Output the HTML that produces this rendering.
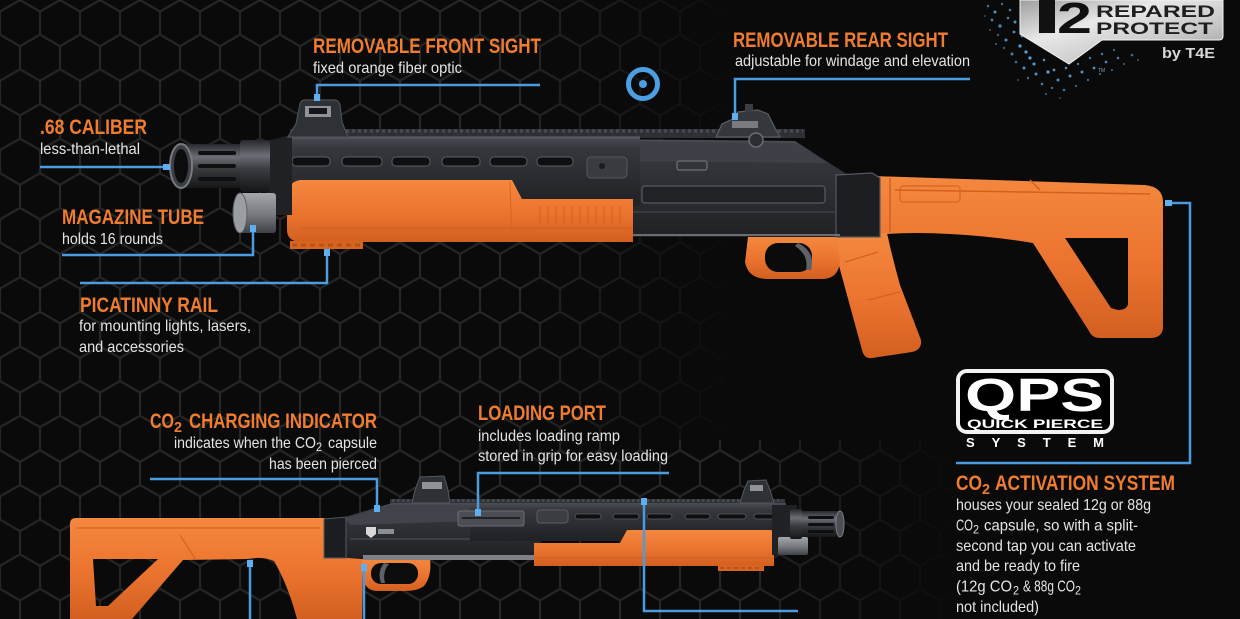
<!DOCTYPE html>
<html><head><meta charset="utf-8"><style>
html,body{margin:0;padding:0;background:#0a0a0a;width:1240px;height:619px;overflow:hidden}
svg{display:block}
.h{font-family:"Liberation Sans",Arial,sans-serif;font-weight:700;font-size:21px;fill:#ef7c31}
.hs{font-family:"Liberation Sans",Arial,sans-serif;font-weight:700;font-size:15px;fill:#ef7c31}
.b{font-family:"Liberation Sans",Arial,sans-serif;font-size:16px;fill:#e4e4e4}
.bs{font-family:"Liberation Sans",Arial,sans-serif;font-size:12px;fill:#e4e4e4}
</style></head><body>
<svg width="1240" height="619" viewBox="0 0 1240 619" xmlns="http://www.w3.org/2000/svg">
<defs>
<pattern id="hex" width="40" height="69.28" patternUnits="userSpaceOnUse">
<path d="M20,0 L40,11.55 L40,34.64 L20,46.19 L0,34.64 L0,11.55 Z M20,46.19 L20,69.28" fill="none" stroke="#262626" stroke-width="2.2"/>
</pattern>
<linearGradient id="fadeX" x1="0" y1="0" x2="1" y2="0">
<stop offset="0" stop-color="#fff"/><stop offset="0.42" stop-color="#fff"/><stop offset="0.6" stop-color="#000"/><stop offset="1" stop-color="#000"/>
</linearGradient>
<linearGradient id="fadeX2" x1="0" y1="0" x2="1" y2="0">
<stop offset="0" stop-color="#fff"/><stop offset="0.6" stop-color="#fff"/><stop offset="0.78" stop-color="#000"/><stop offset="1" stop-color="#000"/>
</linearGradient>
<mask id="hexmask">
<rect x="0" y="0" width="1240" height="619" fill="url(#fadeX)"/>
<rect x="0" y="440" width="1240" height="179" fill="url(#fadeX2)"/>
</mask>
<linearGradient id="gOr" x1="0" y1="0" x2="0" y2="1">
<stop offset="0" stop-color="#f4883f"/><stop offset="0.5" stop-color="#ec7530"/><stop offset="1" stop-color="#d35f20"/>
</linearGradient>
<linearGradient id="gDark" x1="0" y1="0" x2="0" y2="1">
<stop offset="0" stop-color="#4a4e54"/><stop offset="0.18" stop-color="#34373c"/><stop offset="1" stop-color="#1f2124"/>
</linearGradient>
<linearGradient id="gMuz" x1="0" y1="0" x2="0" y2="1">
<stop offset="0" stop-color="#26282c"/><stop offset="0.3" stop-color="#6b6f75"/><stop offset="0.55" stop-color="#3a3d41"/><stop offset="1" stop-color="#151618"/>
</linearGradient>
<linearGradient id="gCap" x1="0" y1="0" x2="0" y2="1">
<stop offset="0" stop-color="#a3a7ab"/><stop offset="0.5" stop-color="#7a7e83"/><stop offset="1" stop-color="#3e4145"/>
</linearGradient>
<linearGradient id="gSil" x1="0" y1="0" x2="1" y2="1">
<stop offset="0" stop-color="#9d9d9d"/><stop offset="0.35" stop-color="#e8e8e8"/><stop offset="0.7" stop-color="#c4c4c4"/><stop offset="1" stop-color="#8e8e8e"/>
</linearGradient>
</defs>

<rect width="1240" height="619" fill="#0a0a0a"/>
<rect width="1240" height="619" fill="url(#hex)" mask="url(#hexmask)"/>

<!-- LOGO -->
<g>
<g fill="#5fb0ee">
<circle cx="988" cy="6" r="1.3" opacity=".6"/><circle cx="995" cy="12" r="1.5" opacity=".8"/><circle cx="1002" cy="4" r="1.2" opacity=".6"/><circle cx="992" cy="20" r="1.4" opacity=".7"/><circle cx="1000" cy="26" r="1.6" opacity=".8"/><circle cx="1008" cy="18" r="1.3" opacity=".7"/><circle cx="998" cy="35" r="1.2" opacity=".5"/><circle cx="1006" cy="40" r="1.5" opacity=".8"/><circle cx="1014" cy="32" r="1.4" opacity=".8"/><circle cx="1004" cy="48" r="1.2" opacity=".5"/><circle cx="1012" cy="54" r="1.5" opacity=".7"/><circle cx="1020" cy="46" r="1.6" opacity=".9"/><circle cx="1016" cy="62" r="1.3" opacity=".6"/><circle cx="1024" cy="68" r="1.5" opacity=".8"/><circle cx="1030" cy="58" r="1.6" opacity=".9"/><circle cx="1028" cy="78" r="1.2" opacity=".6"/><circle cx="1036" cy="74" r="1.5" opacity=".8"/><circle cx="1042" cy="84" r="1.3" opacity=".7"/><circle cx="1048" cy="72" r="1.6" opacity=".9"/><circle cx="1052" cy="88" r="1.2" opacity=".6"/><circle cx="1058" cy="80" r="1.5" opacity=".8"/><circle cx="1064" cy="90" r="1.3" opacity=".6"/><circle cx="1070" cy="76" r="1.5" opacity=".8"/><circle cx="1076" cy="86" r="1.2" opacity=".5"/><circle cx="1082" cy="72" r="1.5" opacity=".8"/><circle cx="1088" cy="80" r="1.2" opacity=".6"/><circle cx="1094" cy="68" r="1.4" opacity=".8"/><circle cx="1100" cy="74" r="1.2" opacity=".5"/><circle cx="1106" cy="62" r="1.4" opacity=".7"/><circle cx="1112" cy="70" r="1.1" opacity=".5"/><circle cx="1118" cy="58" r="1.3" opacity=".7"/><circle cx="1124" cy="64" r="1.1" opacity=".5"/><circle cx="1132" cy="55" r="1.3" opacity=".6"/><circle cx="1138" cy="60" r="1" opacity=".5"/><circle cx="1010" cy="10" r="1.3" opacity=".7"/><circle cx="1015" cy="22" r="1.5" opacity=".8"/><circle cx="1022" cy="36" r="1.4" opacity=".8"/><circle cx="1026" cy="52" r="1.6" opacity=".9"/><circle cx="1034" cy="64" r="1.5" opacity=".9"/><circle cx="1044" cy="60" r="1.3" opacity=".8"/><circle cx="1054" cy="70" r="1.4" opacity=".8"/><circle cx="1066" cy="68" r="1.3" opacity=".8"/><circle cx="1078" cy="64" r="1.2" opacity=".7"/><circle cx="1090" cy="58" r="1.2" opacity=".7"/><circle cx="1102" cy="54" r="1.2" opacity=".7"/><circle cx="1114" cy="50" r="1.1" opacity=".6"/><circle cx="996" cy="44" r="1.1" opacity=".5"/><circle cx="990" cy="30" r="1" opacity=".5"/><circle cx="985" cy="16" r="1" opacity=".4"/><circle cx="1018" cy="80" r="1" opacity=".4"/><circle cx="1046" cy="94" r="1.1" opacity=".5"/><circle cx="1060" cy="98" r="1" opacity=".4"/>
</g>
<path d="M1020,0 L1223,0 L1223,36 Q1223,40 1219,40 L1102,40 L1069,64 L1020,34 Z" fill="url(#gSil)" stroke="#f2f2f2" stroke-width="1"/>
<rect x="1039" y="0" width="16" height="33" fill="#111"/>
<text x="1057" y="33" font-family="Liberation Sans, Arial, sans-serif" font-weight="700" font-size="44" fill="#111" textLength="35" lengthAdjust="spacingAndGlyphs">2</text>
<text x="1096" y="17" font-family="Liberation Sans, Arial, sans-serif" font-weight="700" font-size="17" fill="#1e1e1e" textLength="119" lengthAdjust="spacingAndGlyphs">REPARED</text>
<text x="1096" y="34" font-family="Liberation Sans, Arial, sans-serif" font-weight="700" font-size="17" fill="#1e1e1e" textLength="117" lengthAdjust="spacingAndGlyphs">PROTECT</text>
<text x="1162" y="58" font-family="Liberation Sans, Arial, sans-serif" font-weight="700" font-size="15" fill="#d8d8d8" textLength="53" lengthAdjust="spacingAndGlyphs">by T4E</text>
<text x="1098" y="72" font-family="Liberation Sans, Arial, sans-serif" font-size="5" fill="#8a9aa8">TM</text>
</g>

<!-- TARGET ICON -->
<circle cx="643" cy="84" r="14.5" fill="none" stroke="#4b9fe2" stroke-width="5"/>
<circle cx="643" cy="84" r="4" fill="#4b9fe2"/>

<!-- ============ TOP GUN ============ -->
<g>
<path fill-rule="evenodd" fill="url(#gOr)" d="M873,176 L1145,185 Q1163,187 1163,202 L1163,328 Q1162,338 1150,338 L1100,338 Q1092,338 1089,331 L1033,243 Q990,236 950,234 Q915,232 887,234 L873,237 Z M1065,238 L1128,238 L1128,304 Q1127,310 1118,310 L1111,308 Z"/>
<path d="M890,178 L890,232 M895,190 L1150,194 M1030,180 L1040,190" stroke="#d2601f" stroke-width="1.5" fill="none"/>
<rect x="900" y="186" width="60" height="16" rx="3" fill="none" stroke="#d5641f" stroke-width="1.2"/>
<path fill="url(#gOr)" d="M833,237 L887,233 Q893,260 900,285 L921,340 Q922,350 912,352 L872,358 Q864,359 862,350 L838,262 Q833,250 833,237 Z"/>
<path d="M845,262 L878,252 M868,300 L900,292" stroke="#d5621f" stroke-width="1.2" fill="none"/>
<path fill="url(#gOr)" d="M748,237 L836,237 L840,262 Q838,279 822,279 L768,279 Q748,279 745,262 Z"/>
<rect x="765" y="243" width="47" height="29" rx="13" fill="#0b0b0c"/>
<path d="M798,243 Q816,252 811,270 L806,270 Q809,255 795,246 Z" fill="#5e6268"/>
<path fill="url(#gDark)" d="M600,139 L795,141 L848,175 L848,237 L600,237 Z"/>
<path fill="#3d4147" d="M600,141 L795,143 L828,163 L600,161 Z"/>
<path fill="#1c1e21" stroke="#55595e" stroke-width="1.2" d="M836,175 L872,173 L880,178 L880,237 L836,237 Z"/>
<rect x="642" y="186" width="183" height="17" rx="3" fill="#202326" stroke="#4d5157" stroke-width="1.5"/>
<line x1="600" y1="212" x2="836" y2="212" stroke="#41454b" stroke-width="1.2"/>
<line x1="600" y1="235" x2="840" y2="235" stroke="#6a6e73" stroke-width="2"/>
<rect x="677" y="161" width="30" height="9" rx="2" fill="none" stroke="#6d7177" stroke-width="1.2"/>
<rect x="290" y="129" width="515" height="9" fill="#2d3034"/>
<line x1="292" y1="131" x2="803" y2="131" stroke="#4a4e53" stroke-width="3" stroke-dasharray="3 3"/>
<path fill="url(#gDark)" d="M268,141 L288,136 L640,136 L640,206 L268,206 Z"/>
<line x1="288" y1="138" x2="640" y2="138" stroke="#56595e" stroke-width="1.5"/>
<g fill="#0e0f11" stroke="#5b5f64" stroke-width="1">
<rect x="292" y="157" width="38" height="9" rx="4"/>
<rect x="342" y="157" width="40" height="9" rx="4"/>
<rect x="392" y="157" width="38" height="9" rx="4"/>
<rect x="442" y="157" width="38" height="9" rx="4"/>
<rect x="490" y="157" width="37" height="9" rx="4"/>
<rect x="537" y="157" width="36" height="9" rx="4"/>
</g>
<rect x="587" y="157" width="40" height="21" rx="4" fill="#383c41" stroke="#55595e" stroke-width="1"/>
<circle cx="602" cy="166" r="3" fill="#1a1c1f"/>
<path fill="url(#gOr)" d="M300,180 L512,180 L522,199 L633,199 L633,242 L300,242 Q287,241 287,230 L287,196 Q288,182 300,180 Z"/>
<line x1="300" y1="228" x2="633" y2="228" stroke="#d3601f" stroke-width="1.2"/>
<line x1="510" y1="182" x2="512" y2="242" stroke="#d8651f" stroke-width="1"/>
<path d="M540,206 V226 M548,206 V226 M556,206 V226 M564,206 V226 M572,206 V226 M580,206 V226 M588,206 V226 M596,206 V226 M604,206 V226 M612,206 V226 M620,206 V226" stroke="#d8651f" stroke-width="1.2"/>
<rect x="290" y="241" width="73" height="8" fill="#d8651f"/>
<line x1="292" y1="245" x2="362" y2="245" stroke="#b9521a" stroke-width="3" stroke-dasharray="5 4"/>
<path fill="#1f2124" d="M266,142 L286,136 L292,136 L292,215 L266,215 Z"/>
<rect x="240" y="193" width="36" height="40" rx="3" fill="url(#gCap)"/>
<ellipse cx="240" cy="213" rx="7" ry="20" fill="#9a9ea3" stroke="#5a5e63" stroke-width="1"/>
<rect x="180" y="144" width="90" height="44" fill="url(#gMuz)"/>
<rect x="240" y="140" width="30" height="52" rx="3" fill="url(#gMuz)"/>
<rect x="198" y="151" width="38" height="4" rx="2" fill="#0e0f10"/>
<rect x="198" y="164" width="38" height="4" rx="2" fill="#0e0f10"/>
<rect x="198" y="177" width="38" height="4" rx="2" fill="#0e0f10"/>
<ellipse cx="181" cy="166" rx="11" ry="22" fill="#3b3e43" stroke="#777b80" stroke-width="2"/>
<ellipse cx="181" cy="166" rx="7" ry="17" fill="#0c0c0d"/>
<path d="M288,137 L296,124 L300,104 Q301,100 305,100 L334,100 Q339,100 340,105 L342,122 L348,137 Z" fill="#2e3136" stroke="#4c5055" stroke-width="1.2"/>
<rect x="305" y="106" width="26" height="11" fill="#8f9399"/>
<rect x="309" y="108" width="18" height="6" fill="#15161a"/>
<path d="M716,137 L722,124 L735,118 L738,112 L758,110 L768,114 L775,128 L780,137 Z" fill="#34373c" stroke="#5a5e63" stroke-width="1.2"/>
<rect x="745" y="104" width="8" height="8" fill="#3a3d42"/>
<rect x="732" y="121" width="26" height="7" fill="#777b80"/>
<circle cx="756" cy="140" r="7" fill="#2a2d31" stroke="#6a6e73" stroke-width="1.5"/>
</g>

<!-- ============ BOTTOM GUN ============ -->
<g>
<path fill-rule="evenodd" fill="url(#gOr)" d="M76,518 L324,518 L333,521 L333,557 L363,559 L362,619 L297,619 Q288,585 274,561 Q262,556 248,559 L183,560 L132,619 L70,619 L70,524 Q70,518 76,518 Z M93,559 L158,559 L108,606 L96,606 Z"/>
<path d="M76,528 H320 M180,535 L196,560" stroke="#d5631f" stroke-width="1.2" fill="none"/>
<path fill="url(#gOr)" d="M362,559 L430,559 Q432,576 424,586 Q418,591 404,591 L376,591 Q366,590 363,580 Z"/>
<rect x="371" y="563" width="47" height="21" rx="10" fill="#0c0c0c"/>
<path d="M384,563 Q377,572 381,583 L385,583 Q382,572 389,564 Z" fill="#5e6268"/>
<rect x="390" y="499" width="395" height="6" fill="#2f3236"/>
<line x1="392" y1="500.5" x2="783" y2="500.5" stroke="#4a4e53" stroke-width="2.5" stroke-dasharray="2.5 2.5"/>
<path fill="url(#gDark)" d="M330,521 L348,516 L392,503 L540,503 L540,558 L330,558 Z"/>
<path fill="#40444a" d="M345,518 L392,505 L540,505 L540,519 L350,525 Z"/>
<path fill="#1b1d20" stroke="#55595e" stroke-width="1" d="M324,519 L346,517 L346,558 L324,558 Z"/>
<line x1="350" y1="539" x2="540" y2="539" stroke="#484c52" stroke-width="1.2"/>
<rect x="363" y="555" width="178" height="5" fill="#7e8287"/>
<path d="M366,527 h10 v7 l-5,4 l-5,-4 Z" fill="#d8d8d8"/>
<rect x="378" y="529" width="16" height="5" fill="#8a8e93"/>
<rect x="470" y="503" width="316" height="38" fill="url(#gDark)"/>
<g fill="#0e0f11" stroke="#5b5f64" stroke-width=".8">
<rect x="575" y="514" width="26" height="5" rx="2.5"/>
<rect x="613" y="514" width="26" height="5" rx="2.5"/>
<rect x="647" y="514" width="25" height="5" rx="2.5"/>
<rect x="685" y="514" width="25" height="5" rx="2.5"/>
<rect x="718" y="514" width="28" height="5" rx="2.5"/>
<rect x="754" y="514" width="25" height="5" rx="2.5"/>
</g>
<rect x="458" y="511" width="66" height="15" rx="2" fill="#4a4e54" stroke="#6a6e73" stroke-width="1"/>
<line x1="462" y1="518" x2="520" y2="518" stroke="#222" stroke-width="2"/>
<rect x="537" y="510" width="31" height="13" rx="3" fill="#3a3e43" stroke="#5a5e63" stroke-width="1"/>
<path fill="url(#gOr)" d="M534,543 L620,543 L627,530 L771,530 Q774,531 774,535 L774,566 L534,566 Z"/>
<line x1="534" y1="558" x2="774" y2="558" stroke="#d3601f" stroke-width="1"/>
<rect x="718" y="565" width="46" height="6" fill="#d7651f"/>
<line x1="720" y1="568" x2="762" y2="568" stroke="#b9521a" stroke-width="2" stroke-dasharray="4 3"/>
<rect x="772" y="505" width="25" height="50" fill="#1f2124"/>
<rect x="778" y="537" width="30" height="18" rx="2" fill="url(#gCap)"/>
<rect x="795" y="511" width="45" height="26" fill="url(#gMuz)"/>
<rect x="790" y="509" width="12" height="30" rx="2" fill="url(#gMuz)"/>
<rect x="808" y="516" width="26" height="3" rx="1.5" fill="#0e0f10"/>
<rect x="808" y="523" width="26" height="3" rx="1.5" fill="#0e0f10"/>
<rect x="808" y="530" width="26" height="3" rx="1.5" fill="#0e0f10"/>
<ellipse cx="840" cy="524" rx="4" ry="13" fill="#4a4d52" stroke="#7a7e83" stroke-width="1"/>
<path d="M740,503 L744,490 L748,481 L766,480 L770,490 L774,503 Z" fill="#2e3136" stroke="#55595e" stroke-width="1"/>
<rect x="750" y="485" width="13" height="6" fill="#8f9399"/>
<path d="M412,503 L415,490 L420,477 L444,476 L448,490 L450,503 Z" fill="#2e3136" stroke="#55595e" stroke-width="1"/>
<rect x="422" y="482" width="20" height="7" fill="#8f9399"/>
</g>

<!-- ============ CONNECTORS ============ -->
<g fill="none" stroke="#4a9be0" stroke-width="2.5">
<path d="M317,98 V85 H540"/>
<path d="M735,117 V79 H970"/>
<path d="M40,167 H166"/>
<path d="M62,255 H253 V228"/>
<path d="M80,283 H327 V252"/>
<path d="M150,479 H377 V508"/>
<path d="M669,473 H478 V512"/>
<path d="M250,563 V619"/>
<path d="M364,567 V619"/>
<path d="M644,501 V611 H798"/>
<path d="M1168,203 H1190 V463 H956"/>
</g>
<g fill="#5eaef0">
<rect x="314" y="94" width="6" height="7"/>
<rect x="732" y="113" width="6" height="7"/>
<rect x="163" y="164" width="7" height="6"/>
<rect x="250" y="225" width="6" height="7"/>
<rect x="324" y="249" width="6" height="7"/>
<rect x="374" y="505" width="6" height="7"/>
<rect x="475" y="509" width="6" height="7"/>
<rect x="247" y="560" width="6" height="7"/>
<rect x="361" y="564" width="6" height="7"/>
<rect x="641" y="498" width="6" height="7"/>
<rect x="1165" y="200" width="7" height="6"/>
</g>

<!-- ============ QPS BADGE ============ -->
<rect x="958" y="371" width="154" height="61" rx="9" fill="#000" stroke="#f2f2f2" stroke-width="4"/>
<text x="965" y="411" font-family="Liberation Sans, Arial, sans-serif" font-weight="700" font-size="46" fill="#fff" textLength="139" lengthAdjust="spacingAndGlyphs">QPS</text>
<text x="967" y="428" font-family="Liberation Sans, Arial, sans-serif" font-weight="700" font-size="12" fill="#fff" textLength="136" lengthAdjust="spacingAndGlyphs">QUICK PIERCE</text>
<text x="966" y="447" font-family="Liberation Sans, Arial, sans-serif" font-weight="700" font-size="13" fill="#fff" textLength="138" lengthAdjust="spacing">SYSTEM</text>

<!-- ============ TEXT ============ -->
<text class="h" x="313" y="53" textLength="228" lengthAdjust="spacingAndGlyphs">REMOVABLE FRONT SIGHT</text>
<text class="b" x="313" y="73" textLength="149" lengthAdjust="spacingAndGlyphs">fixed orange fiber optic</text>

<text class="h" x="733" y="47" textLength="215" lengthAdjust="spacingAndGlyphs">REMOVABLE REAR SIGHT</text>
<text class="b" x="735" y="66" textLength="235" lengthAdjust="spacingAndGlyphs">adjustable for windage and elevation</text>

<text class="h" x="40" y="134" textLength="107" lengthAdjust="spacingAndGlyphs">.68 CALIBER</text>
<text class="b" x="40" y="154" textLength="100" lengthAdjust="spacingAndGlyphs">less-than-lethal</text>

<text class="h" x="62" y="224" textLength="142" lengthAdjust="spacingAndGlyphs">MAGAZINE TUBE</text>
<text class="b" x="62" y="244" textLength="101" lengthAdjust="spacingAndGlyphs">holds 16 rounds</text>

<text class="h" x="80" y="312" textLength="138" lengthAdjust="spacingAndGlyphs">PICATINNY RAIL</text>
<text class="b" x="79" y="331" textLength="172" lengthAdjust="spacingAndGlyphs">for mounting lights, lasers,</text>
<text class="b" x="79" y="352" textLength="105" lengthAdjust="spacingAndGlyphs">and accessories</text>

<text class="h" x="150" y="428" textLength="24" lengthAdjust="spacingAndGlyphs">CO</text>
<text class="hs" x="174" y="432" textLength="8" lengthAdjust="spacingAndGlyphs">2</text>
<text class="h" x="189" y="428" textLength="188" lengthAdjust="spacingAndGlyphs">CHARGING INDICATOR</text>
<text class="b" x="174" y="448" textLength="142" lengthAdjust="spacingAndGlyphs">indicates when the CO</text>
<text class="bs" x="316" y="451" textLength="6" lengthAdjust="spacingAndGlyphs">2</text>
<text class="b" x="328" y="448" textLength="49" lengthAdjust="spacingAndGlyphs">capsule</text>
<text class="b" x="269" y="469" textLength="108" lengthAdjust="spacingAndGlyphs">has been pierced</text>

<text class="h" x="478" y="420" textLength="128" lengthAdjust="spacingAndGlyphs">LOADING PORT</text>
<text class="b" x="478" y="441" textLength="142" lengthAdjust="spacingAndGlyphs">includes loading ramp</text>
<text class="b" x="478" y="461" textLength="190" lengthAdjust="spacingAndGlyphs">stored in grip for easy loading</text>

<text class="h" x="956" y="490" textLength="26" lengthAdjust="spacingAndGlyphs">CO</text>
<text class="hs" x="982" y="494" textLength="8" lengthAdjust="spacingAndGlyphs">2</text>
<text class="h" x="995" y="490" textLength="180" lengthAdjust="spacingAndGlyphs">ACTIVATION SYSTEM</text>
<text class="b" x="956" y="510" textLength="195" lengthAdjust="spacingAndGlyphs">houses your sealed 12g or 88g</text>
<text class="b" x="956" y="530.5" textLength="17" lengthAdjust="spacingAndGlyphs">CO</text>
<text class="bs" x="973" y="533.5" textLength="6" lengthAdjust="spacingAndGlyphs">2</text>
<text class="b" x="984" y="530.5" textLength="154" lengthAdjust="spacingAndGlyphs">capsule, so with a split-</text>
<text class="b" x="956" y="551" textLength="180" lengthAdjust="spacingAndGlyphs">second tap you can activate</text>
<text class="b" x="956" y="571" textLength="124" lengthAdjust="spacingAndGlyphs">and be ready to fire</text>
<text class="b" x="956" y="591.5" textLength="56" lengthAdjust="spacingAndGlyphs">(12g CO</text>
<text class="bs" x="1013" y="594.5" textLength="6" lengthAdjust="spacingAndGlyphs">2</text>
<text class="b" x="1023" y="591.5" textLength="52" lengthAdjust="spacingAndGlyphs">&amp; 88g CO</text>
<text class="bs" x="1075" y="594.5" textLength="6" lengthAdjust="spacingAndGlyphs">2</text>
<text class="b" x="956" y="612" textLength="83" lengthAdjust="spacingAndGlyphs">not included)</text>
</svg>
</body></html>
